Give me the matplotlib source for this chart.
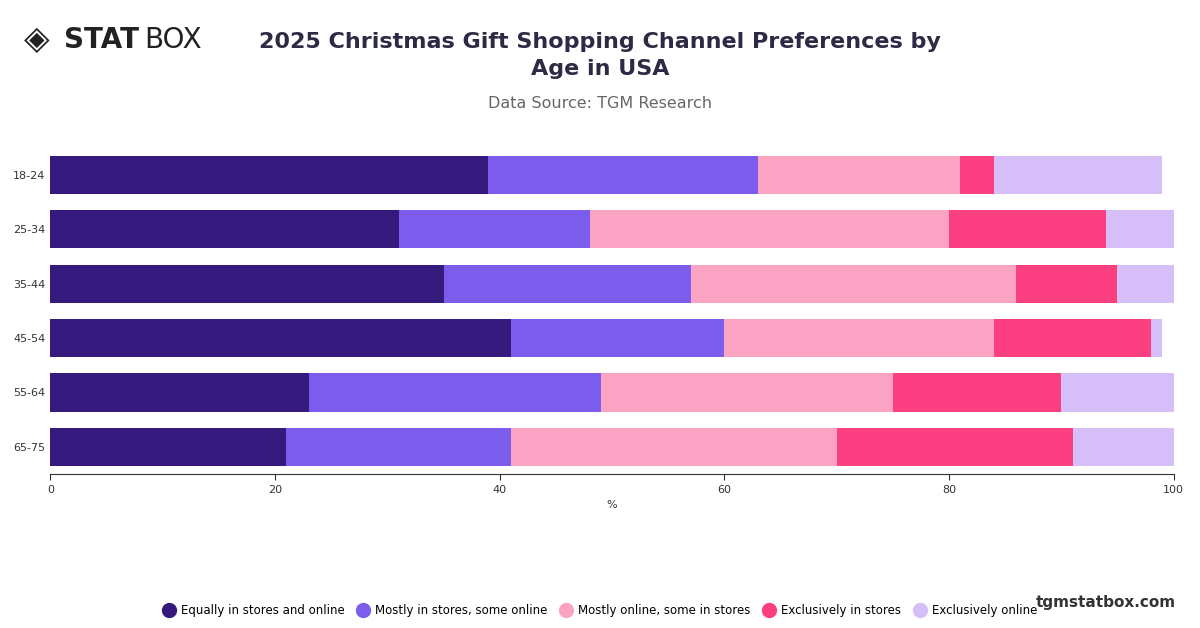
import matplotlib.pyplot as plt
import numpy as np

ages = ["18-24", "25-34", "35-44", "45-54", "55-64", "65-75"]
series = ["Equally in stores and online", "Mostly in stores, some online",
          "Mostly online, some in stores", "Exclusively in stores", "Exclusively online"]
equally = [39, 31, 35, 41, 23, 21]
mostly_stores = [24, 17, 22, 19, 26, 20]
mostly_online = [18, 32, 29, 24, 26, 29]
excl_stores = [3, 14, 9, 14, 15, 21]
excl_online = [15, 6, 5, 1, 10, 9]
colors = ["#35197d", "#7b5cec", "#fba3c3", "#fb3f80", "#d6bff9"]

fig = plt.figure(figsize=(12, 6.28), dpi=100)
ax = fig.add_axes([0.042, 0.245, 0.936, 0.52])
y = np.arange(len(ages))
left = np.zeros(len(ages))
for vals, name, c in zip([equally, mostly_stores, mostly_online, excl_stores, excl_online], series, colors):
    ax.barh(y, vals, left=left, height=0.7, color=c, label=name)
    left += np.array(vals)
ax.set_ylim(5.5, -0.5)
ax.set_xlim(0, 100)
ax.set_yticks(y)
ax.set_yticklabels(ages, fontsize=8, color="#333333")
ax.set_xticks([0, 20, 40, 60, 80, 100])
ax.tick_params(axis="x", labelsize=8, colors="#333333", length=4)
ax.tick_params(axis="y", length=0)
for s in ["top", "right", "left"]:
    ax.spines[s].set_visible(False)
ax.spines["bottom"].set_color("#333333")
ax.set_xlabel("%", fontsize=8, color="#333333")

fig.text(0.5, 0.912, "2025 Christmas Gift Shopping Channel Preferences by\nAge in USA",
         ha="center", va="center", fontsize=16, fontweight="bold", color="#2e2a45", linespacing=1.45)
fig.text(0.5, 0.828, "Data Source: TGM Research", ha="center", fontsize=11.5, color="#666666")
fig.text(0.02, 0.937, "\u25c8", fontsize=24, color="#222222", va="center")
fig.text(0.053, 0.937, "STAT", fontsize=20, fontweight="bold", color="#222222", va="center")
fig.text(0.12, 0.937, "BOX", fontsize=20, color="#222222", va="center")
fig.text(0.98, 0.033, "tgmstatbox.com", ha="right", fontsize=11, fontweight="bold", color="#333333")

fig.legend(loc="lower center", bbox_to_anchor=(0.5, 0.0), ncol=5, frameon=False, fontsize=8.5,
           handlelength=1, handletextpad=0.5, columnspacing=1.1,
           handles=[plt.Line2D([], [], marker="o", ls="", ms=10, color=c) for c in colors],
           labels=series)
fig.savefig("out.png", dpi=100)
